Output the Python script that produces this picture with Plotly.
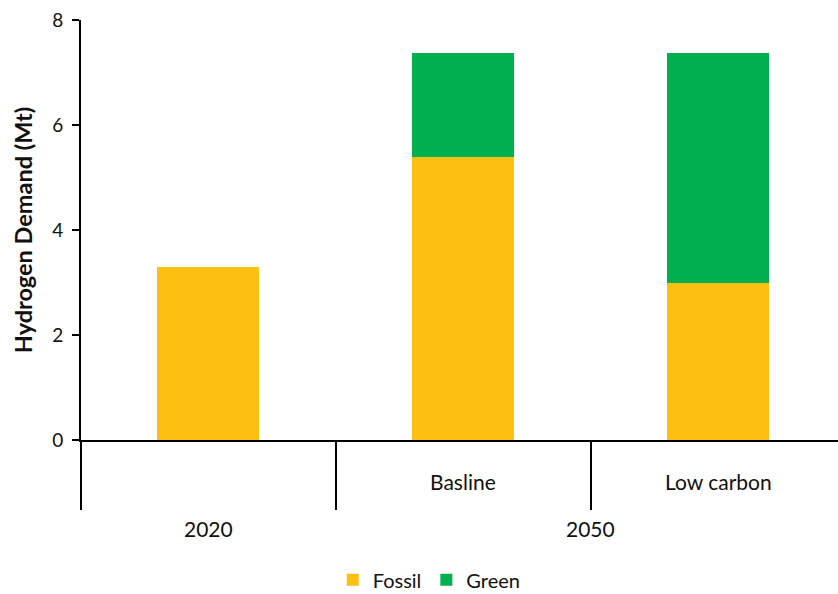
import plotly.graph_objects as go

categories = ["2020", "Basline", "Low carbon"]
groups = ["2020", "2050", "2050"]
inner_labels = ["", "Basline", "Low carbon"]
fossil = [3.3, 5.4, 3.0]
green = [0.0, 1.97, 4.37]

FONT = "Lato"
fig = go.Figure()
fig.add_trace(go.Bar(x=categories, y=fossil, name="Fossil", marker_color="#FDC010",
                     marker_line_width=0))
fig.add_trace(go.Bar(x=categories, y=green, name="Green", marker_color="#00B050",
                     marker_line_width=0))

annotations = []
for i, lab in enumerate(inner_labels):
    if lab:
        annotations.append(dict(x=i, y=0, xref="x", yref="paper", text=lab, showarrow=False,
                                yanchor="middle", yshift=-41, font=dict(size=21, color="#111")))
seen = []
for g in groups:
    if g not in seen:
        seen.append(g)
for g in seen:
    idx = [i for i, gg in enumerate(groups) if gg == g]
    xc = sum(idx) / len(idx)
    annotations.append(dict(x=xc, y=0, xref="x", yref="paper", text=g, showarrow=False,
                            yanchor="middle", yshift=-88, font=dict(size=21, color="#111")))

fig.update_layout(
    width=838, height=594,
    margin=dict(l=81, r=0, t=20, b=154, autoexpand=False),
    barmode="stack", bargap=0.6,
    plot_bgcolor="white", paper_bgcolor="white",
    font=dict(family=FONT, size=20, color="#111"),
    showlegend=True,
    legend=dict(orientation="h", x=0.46, xanchor="center", y=-0.333, yanchor="middle",
                font=dict(size=20), itemwidth=30, traceorder="normal"),
    annotations=annotations,
    xaxis=dict(range=[-0.5, 2.47], showgrid=False, showline=True, linecolor="black", linewidth=2,
               ticks="outside", tickson="boundaries", ticklen=68, tickwidth=2, tickcolor="black",
               showticklabels=False, zeroline=False, automargin=False),
    yaxis=dict(range=[0, 8], tickvals=[0, 2, 4, 6, 8], showgrid=False, showline=True,
               linecolor="black", linewidth=2, ticks="outside", ticklen=7, tickwidth=2,
               tickcolor="black", zeroline=False, tickfont=dict(size=19), automargin=False,
               ticklabelstandoff=5,
               title=dict(text="<b>Hydrogen Demand (Mt)</b>", font=dict(size=23.5), standoff=13)),
)
fig.write_html("out.html", config={"displayModeBar": False},
               post_script="document.body.style.margin='0';document.body.style.overflow='hidden';")
